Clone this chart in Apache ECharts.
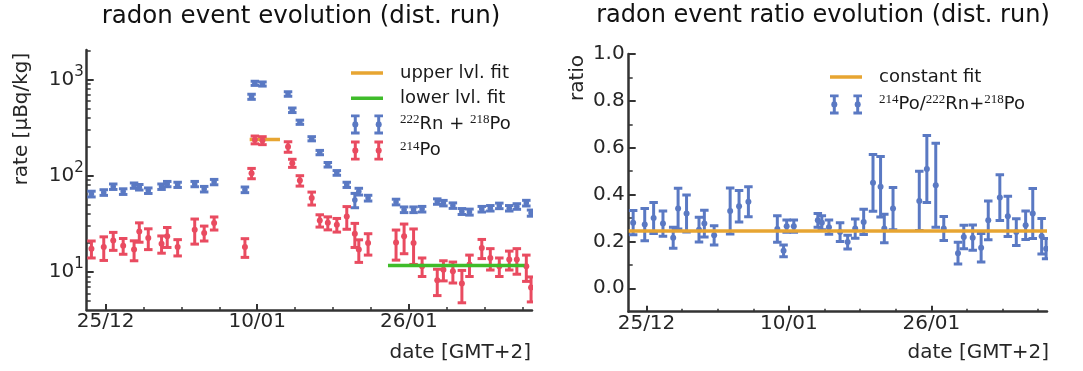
<!DOCTYPE html>
<html><head><meta charset="utf-8">
<script src="https://cdn.jsdelivr.net/npm/echarts@6/dist/echarts.min.js"></script>
<style>html,body{margin:0;padding:0;background:#fff}#c{width:1083px;height:371px}</style>
</head><body><div id="c"></div>
<script>
// measurement times, days counted from 25/12
const days = [-1.5, -0.2, 0.8, 1.85, 3.0, 3.55, 4.5, 5.9, 6.5, 7.6, 9.4, 10.4, 11.45, 14.7,
  15.4, 15.75, 16.55, 19.25, 19.7, 20.5, 21.75, 22.6, 23.45, 24.4, 25.45, 26.3, 26.72, 27.7,
  30.65, 31.5, 32.5, 33.4, 35.0, 35.65, 36.65, 37.6, 38.4, 39.7, 40.6, 41.55, 42.6, 43.4, 44.4, 44.9];
// 222Rn + 218Po rate [uBq/kg]
const rnPo = [64.6, 67, 77, 68.5, 79, 76, 70, 77, 82, 80.5, 82, 72.6, 86, 71.5,
  660, 910, 895, 705, 478, 359, 242, 174, 130, 107, 80.5, 56, 68.5, 58.6,
  53.4, 44.4, 44.4, 45, 54, 52, 49, 42.6, 42, 45, 46, 48.7, 46, 48, 52, 41];
const rnPoErr = [4.4, 4.5, 5, 4.6, 5, 5, 4.6, 5, 5.2, 5, 5.2, 4.8, 5.5, 4.8,
  40, 45, 44, 38, 26, 18, 12, 9, 7, 6, 5, 9.5, 5.5, 4,
  3.6, 3, 3, 3, 3.5, 3.4, 3.2, 3, 3, 3, 3, 3.2, 3, 3.2, 3.5, 3];
// 214Po rate [uBq/kg]
const po214 = [17.5, 18.2, 21.3, 18.8, 17.1, 26.4, 22.6, 19.7, 23.5, 18.2, 27.5, 25.5, 32.3, 18.2,
  106, 236, 232, 200, 135, 89, 58.6, 34.3, 32.4, 31, 37.8, 25, 17.1, 20,
  20.3, 23.5, 20, 11.5, 8.2, 10.6, 10.2, 7.6, 12, 17.8, 14, 11.5, 13.5, 13.5, 11.5, 6.9];
const po214Err = [3.5, 5, 4.5, 3.5, 4, 6, 5.5, 4, 5.5, 3.5, 8, 4.5, 5, 4,
  13, 22, 22, 25, 13, 11, 9, 5, 5, 5, 10, 7, 4.5, 5,
  7, 8, 8, 2.5, 2.5, 2.5, 2.5, 2.8, 3, 4, 3.5, 2.5, 3, 4, 3.5, 2];
// ratio 214Po / (222Rn + 218Po)
const ratio = [0.280, 0.272, 0.300, 0.276, 0.216, 0.340, 0.319, 0.250, 0.276, 0.226, 0.330, 0.350, 0.369, 0.253,
  0.160, 0.265, 0.265, 0.290, 0.280, 0.261, 0.240, 0.197, 0.255, 0.283, 0.450, 0.433, 0.255, 0.340,
  0.373, 0.509, 0.440, 0.255, 0.150, 0.219, 0.216, 0.173, 0.290, 0.387, 0.307, 0.240, 0.269, 0.319, 0.222, 0.169];
const ratioErr = [0.052, 0.069, 0.066, 0.054, 0.045, 0.087, 0.079, 0.053, 0.057, 0.041, 0.098, 0.067, 0.064, 0.057,
  0.025, 0.026, 0.026, 0.029, 0.030, 0.030, 0.040, 0.029, 0.041, 0.054, 0.121, 0.129, 0.061, 0.090,
  0.126, 0.143, 0.179, 0.051, 0.046, 0.050, 0.054, 0.061, 0.083, 0.098, 0.086, 0.057, 0.061, 0.107, 0.076, 0.043];
// fits
const upperFitValue = 238;
const upperFitDays = [15.2, 18.4];
const lowerFitValue = 11.7;
const lowerFitDays = [29.8, 44.2];
const constFitValue = 0.244;
const constFitDays = [-2, 45];
// ticks
const xTickDays = [0, 16, 32];
const xTickLabels = ['25/12', '10/01', '26/01'];
const xMinorDays = [4, 8, 12, 20, 24, 28, 36, 40, 44];
const rateTickExp = [1, 2, 3];
const rateMinorTicks = [5, 6, 7, 8, 9, 20, 30, 40, 50, 60, 70, 80, 90, 200, 300, 400, 500, 600, 700, 800, 900, 2000];
const ratioTicks = [0, 0.2, 0.4, 0.6, 0.8, 1.0];
const ratioMinorTicks = [0.1, 0.3, 0.5, 0.7, 0.9];

const BLUE = '#5a79c3', RED = '#e94b60', ORANGE = '#e7a532', GREEN = '#3fbc2a';
const AX = '#333333', TXT = '#262626';
const FONT = 'DejaVu Sans';
const L = Math.log10;

const rnData = days.map((d, i) => [d, L(rnPo[i]), L(rnPo[i] - rnPoErr[i]), L(rnPo[i] + rnPoErr[i])]);
const poData = days.map((d, i) => [d, L(po214[i]), L(po214[i] - po214Err[i]), L(po214[i] + po214Err[i])]);
const ratioData = days.map((d, i) => [d, ratio[i], ratio[i] - ratioErr[i], ratio[i] + ratioErr[i]]);

function errRender(color, capW, lw, r) {
  return function (params, api) {
    const x = api.value(0);
    const c = api.coord([x, api.value(1)]);
    const lo = api.coord([x, api.value(2)]);
    const hi = api.coord([x, api.value(3)]);
    const st = { stroke: color, lineWidth: lw };
    return { type: 'group', children: [
      { type: 'line', shape: { x1: c[0], y1: lo[1], x2: c[0], y2: hi[1] }, style: st },
      { type: 'line', shape: { x1: c[0] - capW / 2, y1: lo[1], x2: c[0] + capW / 2, y2: lo[1] }, style: st },
      { type: 'line', shape: { x1: c[0] - capW / 2, y1: hi[1], x2: c[0] + capW / 2, y2: hi[1] }, style: st },
      { type: 'circle', shape: { cx: c[0], cy: c[1], r: r }, style: { fill: color } }
    ] };
  };
}

// legend icons (drawn in a 32 x 20 box)
function barIconPath(W) {
  function one(cx) {
    const p = [[cx-4.3,0],[cx+4.3,0],[cx+4.3,2.8],[cx+1.5,2.8],[cx+1.5,7.2],[cx+2.6,8],[cx+3.1,10],[cx+2.6,12],[cx+1.5,12.8],
      [cx+1.5,17.2],[cx+4.3,17.2],[cx+4.3,20],[cx-4.3,20],[cx-4.3,17.2],[cx-1.5,17.2],[cx-1.5,12.8],[cx-2.6,12],[cx-3.1,10],
      [cx-2.6,8],[cx-1.5,7.2],[cx-1.5,2.8],[cx-4.3,2.8]];
    return 'M' + p.map(q => q[0] + ',' + q[1]).join('L') + 'Z';
  }
  return 'path://' + one(4.3) + one(W - 4.3);
}
const ICON = barIconPath(32);
const LINE_ICON = 'path://M0,0L32,0L0,0ZM0,20L32,20L0,20ZM0,8.2L32,8.2L32,11.8L0,11.8Z';

function xAxes(grid) {
  return [
    { gridIndex: grid, type: 'value', min: -2, max: 45, position: 'bottom',
      axisLine: { show: true, onZero: false, lineStyle: { color: AX, width: 2.5 } },
      axisTick: { show: true, inside: true, length: 6, customValues: xTickDays, lineStyle: { color: AX, width: 2 } },
      axisLabel: { show: true, customValues: xTickDays, margin: 2, fontSize: 20, color: TXT, fontFamily: FONT,
        formatter: v => xTickLabels[xTickDays.indexOf(v)] },
      splitLine: { show: false } },
    { gridIndex: grid, type: 'value', min: -2, max: 45, position: 'bottom',
      axisLine: { show: false, onZero: false }, axisLabel: { show: false }, splitLine: { show: false },
      axisTick: { show: true, inside: true, length: 3, customValues: xMinorDays, lineStyle: { color: AX, width: 1.5 } } }
  ];
}

const supRich = {
  b: { fontSize: 20, lineHeight: 30, color: TXT, fontFamily: FONT },
  s: { fontSize: 15, lineHeight: 15, verticalAlign: 'top', color: TXT, fontFamily: FONT }
};
const legRich = {
  t: { fontSize: 18, lineHeight: 22, color: '#1a1a1a', fontFamily: FONT },
  s: { fontSize: 13, lineHeight: 13, verticalAlign: 'top', color: '#1a1a1a', fontFamily: 'Liberation Serif' }
};
const legendText = {
  upper: '{t|upper lvl. fit}',
  lower: '{t|lower lvl. fit}',
  rn: '{s|222}{t|Rn + }{s|218}{t|Po}',
  po: '{s|214}{t|Po}',
  cfit: '{t|constant fit}',
  ratio: '{s|214}{t|Po/}{s|222}{t|Rn+}{s|218}{t|Po}'
};

const option = {
  animation: false,
  backgroundColor: '#ffffff',
  textStyle: { fontFamily: FONT },
  title: [
    { text: 'radon event evolution (dist. run)', left: 301, top: 4, textAlign: 'center', padding: 0,
      textStyle: { fontSize: 24.5, fontWeight: 'normal', color: '#111', fontFamily: FONT } },
    { text: 'radon event ratio evolution (dist. run)', left: 823, top: 4, textAlign: 'center', padding: 0,
      textStyle: { fontSize: 24, fontWeight: 'normal', color: '#111', fontFamily: FONT } }
  ],
  grid: [
    { left: 86.7, top: 50, width: 445.3, height: 260, outerBoundsMode: 'none', containLabel: false },
    { left: 628.7, top: 54, width: 418.3, height: 257.7, outerBoundsMode: 'none', containLabel: false }
  ],
  xAxis: [...xAxes(0), ...xAxes(1)],
  yAxis: [
    { gridIndex: 0, type: 'value', min: L(4.04), max: L(2015), position: 'left',
      axisLine: { show: true, onZero: false, lineStyle: { color: AX, width: 2.5 } },
      axisTick: { show: true, inside: true, length: 7, customValues: rateTickExp, lineStyle: { color: AX, width: 2 } },
      axisLabel: { show: true, customValues: rateTickExp, margin: 3, rich: supRich,
        formatter: v => '{b|10}{s|' + Math.round(v) + '}' },
      splitLine: { show: false } },
    { gridIndex: 0, type: 'value', min: L(4.04), max: L(2015), position: 'left',
      axisLine: { show: false, onZero: false }, axisLabel: { show: false }, splitLine: { show: false },
      axisTick: { show: true, inside: true, length: 4, customValues: rateMinorTicks.map(L), lineStyle: { color: AX, width: 1.5 } } },
    { gridIndex: 1, type: 'value', min: -0.1, max: 1.0, position: 'left',
      axisLine: { show: true, onZero: false, lineStyle: { color: AX, width: 2.5 } },
      axisTick: { show: true, inside: true, length: 7, customValues: ratioTicks, lineStyle: { color: AX, width: 2 } },
      axisLabel: { show: true, customValues: ratioTicks, margin: 4, fontSize: 20, color: TXT, fontFamily: FONT,
        formatter: v => v.toFixed(1) },
      splitLine: { show: false } },
    { gridIndex: 1, type: 'value', min: -0.1, max: 1.0, position: 'left',
      axisLine: { show: false, onZero: false }, axisLabel: { show: false }, splitLine: { show: false },
      axisTick: { show: true, inside: true, length: 4, customValues: ratioMinorTicks, lineStyle: { color: AX, width: 1.5 } } }
  ],
  legend: [
    { left: 351, top: 63, orient: 'vertical', padding: 0, itemWidth: 32, itemHeight: 20, itemGap: 5.2,
      selectedMode: false, formatter: n => legendText[n],
      textStyle: { rich: legRich, padding: [0, 0, 0, 12] },
      data: [{ name: 'upper', icon: LINE_ICON }, { name: 'lower', icon: LINE_ICON }, { name: 'rn', icon: ICON }, { name: 'po', icon: ICON }] },
    { left: 830, top: 67, orient: 'vertical', padding: 0, itemWidth: 32, itemHeight: 20, itemGap: 6.4,
      selectedMode: false, formatter: n => legendText[n],
      textStyle: { rich: legRich, padding: [0, 0, 0, 12] },
      data: [{ name: 'cfit', icon: LINE_ICON }, { name: 'ratio', icon: ICON }] }
  ],
  graphic: [
    { type: 'text', x: 22, y: 119, rotation: Math.PI / 2,
      style: { text: 'rate [µBq/kg]', fontSize: 20, fontFamily: FONT, fill: TXT, align: 'center', verticalAlign: 'middle' } },
    { type: 'text', x: 531, y: 353,
      style: { text: 'date [GMT+2]', fontSize: 20, fontFamily: FONT, fill: TXT, align: 'right', verticalAlign: 'middle' } },
    { type: 'text', x: 578, y: 78, rotation: Math.PI / 2,
      style: { text: 'ratio', fontSize: 20, fontFamily: FONT, fill: TXT, align: 'center', verticalAlign: 'middle' } },
    { type: 'text', x: 1049, y: 353,
      style: { text: 'date [GMT+2]', fontSize: 20, fontFamily: FONT, fill: TXT, align: 'right', verticalAlign: 'middle' } }
  ],
  series: [
    { name: 'upper', type: 'line', xAxisIndex: 0, yAxisIndex: 0, symbol: 'none', z: 1,
      data: upperFitDays.map(d => [d, L(upperFitValue)]), lineStyle: { color: ORANGE, width: 3.5 }, itemStyle: { color: ORANGE } },
    { name: 'rn', type: 'custom', xAxisIndex: 0, yAxisIndex: 0, clip: true, z: 3, itemStyle: { color: BLUE },
      renderItem: errRender(BLUE, 8.5, 3, 2.8), data: rnData },
    { name: 'po', type: 'custom', xAxisIndex: 0, yAxisIndex: 0, clip: true, z: 3, itemStyle: { color: RED },
      renderItem: errRender(RED, 8.5, 3, 3), data: poData },
    { name: 'lower', type: 'line', xAxisIndex: 0, yAxisIndex: 0, symbol: 'none', z: 5,
      data: lowerFitDays.map(d => [d, L(lowerFitValue)]), lineStyle: { color: GREEN, width: 3.5 }, itemStyle: { color: GREEN } },
    { name: 'ratio', type: 'custom', xAxisIndex: 2, yAxisIndex: 2, clip: true, z: 3, itemStyle: { color: BLUE },
      renderItem: errRender(BLUE, 8.5, 3, 3), data: ratioData },
    { name: 'cfit', type: 'line', xAxisIndex: 2, yAxisIndex: 2, symbol: 'none', z: 5,
      data: constFitDays.map(d => [d, constFitValue]), lineStyle: { color: ORANGE, width: 3.5 }, itemStyle: { color: ORANGE } }
  ]
};

const chart = echarts.init(document.getElementById('c'), null, { renderer: 'canvas' });
chart.setOption(option);
</script>
</body></html>
